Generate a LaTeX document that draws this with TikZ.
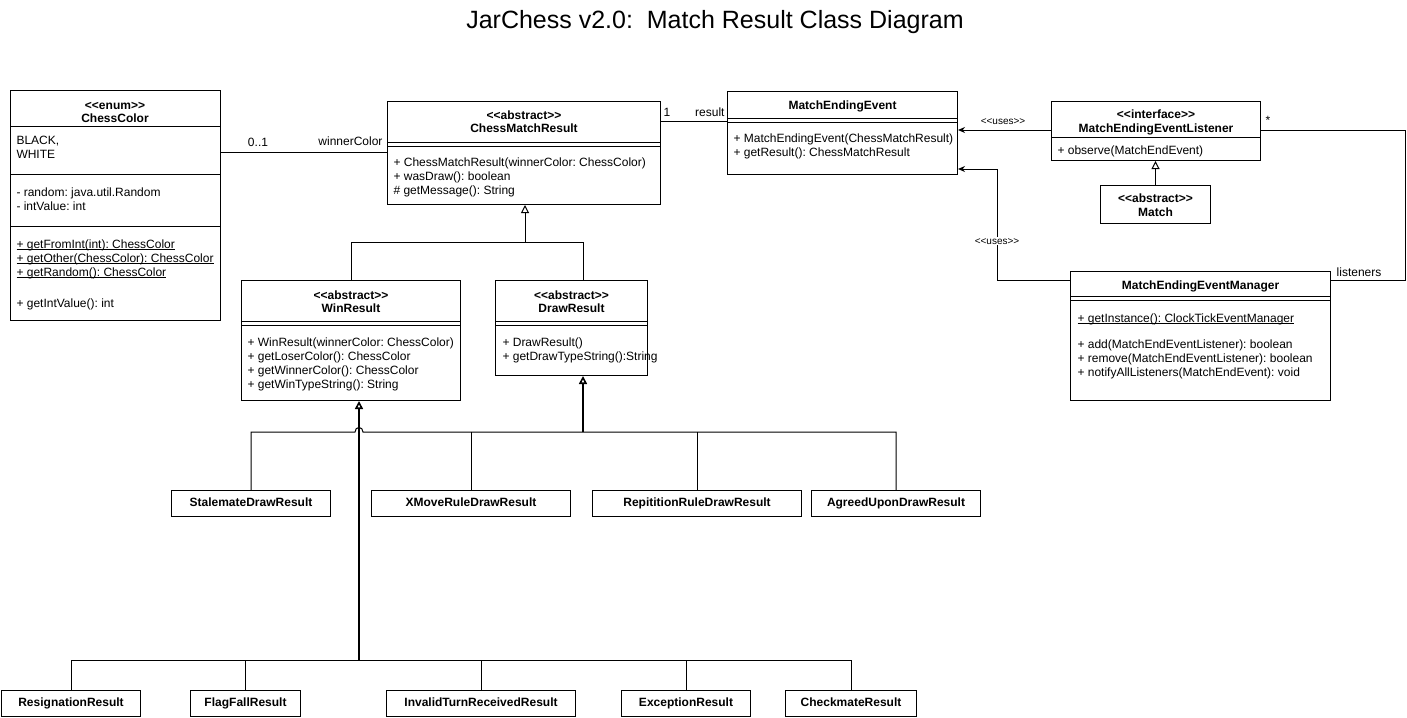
\documentclass[tikz,border=0pt]{standalone}
\usepackage{fontspec}
\newfontfamily\umlfont{Liberation Sans}
\usetikzlibrary{arrows.meta}
\newcommand\umlst[1]{<<#1>>}
\newcommand\umlul[1]{\setbox0\hbox{#1}\rlap{\rule[-2pt]{\wd0}{0.8pt}}\box0}
\frenchspacing

\begin{document}
\begin{tikzpicture}[x=1pt, y=-1pt, line width=1pt,
    every node/.style={font=\umlfont\fontsize{12}{14}\selectfont, inner sep=0pt},
    cls/.style={draw, fill=white, anchor=north west},
    child/.style={cls, minimum height=26pt, text height=9pt, text depth=2.5pt, font=\umlfont\fontsize{12}{14}\selectfont\bfseries},
    hdr/.style={anchor=base, font=\umlfont\fontsize{12}{14}\selectfont\bfseries},
    mem/.style={anchor=base west},
    lbl/.style={anchor=base},
    tiny/.style={anchor=base, font=\umlfont\fontsize{10}{12}\selectfont},
    uses/.style={-{Stealth[length=7pt,width=6pt]}},
    gen/.style={-{Triangle[open,length=8pt,width=8pt]}},
    trunk/.style={line width=1.6pt}]
\useasboundingbox (0,0) rectangle (1407,717);

\node[anchor=base, font=\umlfont\fontsize{25}{30}\selectfont] (title) at (715,29) {JarChess v2.0:\ \ Match Result Class Diagram};

% ChessColor
\node[cls, minimum width=210pt, minimum height=230pt] (color) at (10,90) {};
\foreach \y in {126,174,226}
    \draw (color.west |- 0,\y) -- (color.east |- 0,\y);
\node[hdr] at (115,109) {\umlst{enum}};
\node[hdr] at (115,122) {ChessColor};
\node[mem] at (16,144) {BLACK,};
\node[mem] at (16,158) {WHITE};
\node[mem] at (16,196) {- random: java.util.Random};
\node[mem] at (16,210) {- intValue: int};
\node[mem] at (16,248) {\umlul{+ getFromInt(int): ChessColor}};
\node[mem] at (16,262) {\umlul{+ getOther(ChessColor): ChessColor}};
\node[mem] at (16,276) {\umlul{+ getRandom(): ChessColor}};
\node[mem] at (16,307) {+ getIntValue(): int};

% ChessMatchResult
\node[cls, minimum width=273pt, minimum height=103pt] (result) at (387,101) {};
\foreach \y in {142,146}
    \draw (result.west |- 0,\y) -- (result.east |- 0,\y);
\node[hdr] at (result.north |- 0,119) {\umlst{abstract}};
\node[hdr] at (result.north |- 0,132) {ChessMatchResult};
\foreach \t [count=\i from 0] in {+ ChessMatchResult(winnerColor: ChessColor), + wasDraw(): boolean, \# getMessage(): String}
    \node[mem] at (393,166+14*\i) {\t};

% MatchEndingEvent
\node[cls, minimum width=230pt, minimum height=83pt] (event) at (727,91) {};
\foreach \y in {118,122}
    \draw (event.west |- 0,\y) -- (event.east |- 0,\y);
\node[hdr] at (event.north |- 0,109) {MatchEndingEvent};
\foreach \t [count=\i from 0] in {+ MatchEndingEvent(ChessMatchResult), + getResult(): ChessMatchResult}
    \node[mem] at (733,142+14*\i) {\t};

% MatchEndingEventListener
\node[cls, minimum width=209pt, minimum height=59pt] (listener) at (1051,101) {};
\draw (listener.west |- 0,137) -- (listener.east |- 0,137);
\node[hdr] at (listener.north |- 0,118) {\umlst{interface}};
\node[hdr] at (listener.north |- 0,132) {MatchEndingEventListener};
\node[mem] at (1057,154) {+ observe(MatchEndEvent)};

% Match
\node[cls, minimum width=110pt, minimum height=38pt] (match) at (1100,185) {};
\node[hdr] at (match.north |- 0,202) {\umlst{abstract}};
\node[hdr] at (match.north |- 0,216) {Match};

% MatchEndingEventManager
\node[cls, minimum width=260pt, minimum height=129pt] (manager) at (1070,271) {};
\foreach \y in {296,300}
    \draw (manager.west |- 0,\y) -- (manager.east |- 0,\y);
\node[hdr] at (manager.north |- 0,289) {MatchEndingEventManager};
\node[mem] at (1077,322) {\umlul{+ getInstance(): ClockTickEventManager}};
\foreach \t [count=\i from 0] in {+ add(MatchEndEventListener): boolean, + remove(MatchEndEventListener): boolean, + notifyAllListeners(MatchEndEvent): void}
    \node[mem] at (1077,348+14*\i) {\t};

% WinResult, DrawResult
\node[cls, minimum width=219pt, minimum height=120pt] (win) at (241,280) {};
\node[cls, minimum width=152pt, minimum height=95pt] (draw) at (495,280) {};
\foreach \n in {win,draw} {
    \foreach \y in {321,325}
        \draw (\n.west |- 0,\y) -- (\n.east |- 0,\y);
    \node[hdr] at (\n.north |- 0,299) {\umlst{abstract}};
}
\node[hdr] at (win.north |- 0,312) {WinResult};
\node[hdr] at (draw.north |- 0,312) {DrawResult};
\foreach \t [count=\i from 0] in {+ WinResult(winnerColor: ChessColor), + getLoserColor(): ChessColor, + getWinnerColor(): ChessColor, + getWinTypeString(): String}
    \node[mem] at (247,346+14*\i) {\t};
\foreach \t [count=\i from 0] in {+ DrawResult(), + getDrawTypeString():String}
    \node[mem] at (502,346+14*\i) {\t};

% leaf results
\foreach \n/\x/\w/\t in {stalemate/171/159/StalemateDrawResult, xmove/371/199/XMoveRuleDrawResult,
        repitition/592/209/RepititionRuleDrawResult, agreed/811/169/AgreedUponDrawResult}
    \node[child, minimum width=\w pt] (\n) at (\x,490) {\t};
\foreach \n/\x/\w/\t in {resignation/1/139/ResignationResult, flagfall/190/110/FlagFallResult,
        invalidturn/386/189/InvalidTurnReceivedResult, exception/621/129/ExceptionResult, checkmate/785/131/CheckmateResult}
    \node[child, minimum width=\w pt] (\n) at (\x,690) {\t};

% associations
\draw (color.east |- 0,152) -- (result.west |- 0,152);
\node[lbl] at (258,146) {0..1};
\node[anchor=base east] at (383,145) {winnerColor};
\draw (result.east |- 0,121) -- (event.west |- 0,121);
\node[lbl] at (667,116) {1};
\node[anchor=base east] at (725,116) {result};
\draw[uses] (listener.west |- 0,130) -- (event.east |- 0,130);
\node[tiny] at (1003,124) {\umlst{uses}};
\draw[uses] (manager.west |- 0,280) -| (997,169) -- (event.east |- 0,169);
\node[tiny, fill=white, inner sep=1pt] at (997,244) {\umlst{uses}};
\draw (listener.east |- 0,130) -| (1405,280) -- (manager.east |- 0,280);
\node[lbl] at (1268,124) {*};
\node[lbl] at (1359,276) {listeners};

% generalizations
\draw[gen] (match.north) -- (match.north |- listener.south);
\draw (win.north) |- (583,242) -- (draw.north -| 583,0);
\draw[gen] (525,242) -- (result.south -| 525,0);
\draw[trunk, gen] (583,432) -- (draw.south -| 583,0);
\draw[trunk, gen] (359,660) -- (win.south -| 359,0);
\draw (stalemate.north) |- (355,432) .. controls (355,426) and (363,426) .. (363,432) -- (agreed.north |- 0,432) -- (agreed.north);
\foreach \n in {xmove,repitition}
    \draw (\n.north) -- (\n.north |- 0,432);
\draw (resignation.north) |- (checkmate.north |- 0,660) -- (checkmate.north);
\foreach \n in {flagfall,invalidturn,exception}
    \draw (\n.north) -- (\n.north |- 0,660);
\end{tikzpicture}
\end{document}
